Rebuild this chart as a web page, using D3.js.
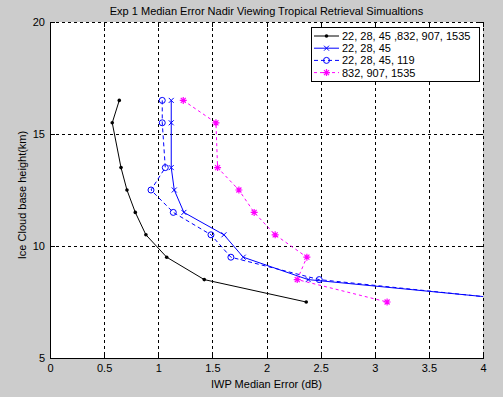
<!DOCTYPE html>
<html>
<head>
    <title>Exp 1 Median Error</title>
    <script src="https://d3js.org/d3.v7.min.js"></script>
    <style>
        body { margin: 0; background: #cccccc; }
        text { font-family: Arial, "Liberation Sans", sans-serif; font-size: 11px; fill: #000; }
        .grid line { stroke: #000; stroke-width: 1; stroke-dasharray: 3,3; shape-rendering: crispEdges; }
        .series { fill: none; stroke-width: 1; }
    </style>
</head>
<body>
<div id="chart"></div>
<script>
    // cloud base heights (km) shared by every series
    const heights = [16.5, 15.5, 13.5, 12.5, 11.5, 10.5, 9.5, 8.5, 7.5];

    // IWP median error (dB) per channel set
    const allChannels = [0.640, 0.575, 0.656, 0.711, 0.788, 0.886, 1.078, 1.425, 2.367];
    const ch22_28_45 = [1.120, 1.120, 1.120, 1.148, 1.237, 1.607, 1.785, 2.385, 4.52];
    const ch22_28_45_119 = [1.037, 1.037, 1.065, 0.933, 1.139, 1.487, 1.671, 2.487, 4.48];
    const ch832_907_1535 = [1.231, 1.533, 1.548, 1.745, 1.886, 2.080, 2.373, 2.284, 3.114];

    const seriesNames = ["22, 28, 45 ,832, 907, 1535", "22, 28, 45", "22, 28, 45, 119", "832, 907, 1535"];
    const xTicks = [0, 0.5, 1, 1.5, 2, 2.5, 3, 3.5, 4];
    const yTicks = [5, 10, 15, 20];

    const W = 503, H = 397;
    const m = { left: 50, right: 483, top: 22, bottom: 358 };

    const x = d3.scaleLinear().domain([0, 4]).range([m.left, m.right]);
    const y = d3.scaleLinear().domain([5, 20]).range([m.bottom, m.top]);

    const series = [
        { name: seriesNames[0], vals: allChannels, color: "#000000", dash: null, marker: "dot" },
        { name: seriesNames[1], vals: ch22_28_45, color: "#0000ff", dash: null, marker: "x" },
        { name: seriesNames[2], vals: ch22_28_45_119, color: "#0000ff", dash: "4,3", marker: "circle" },
        { name: seriesNames[3], vals: ch832_907_1535, color: "#ff00ff", dash: "3,3", marker: "star" }
    ];

    const svg = d3.select("#chart").append("svg")
        .attr("width", W)
        .attr("height", H);

    svg.append("rect").attr("width", W).attr("height", H).attr("fill", "#cccccc");

    svg.append("defs").append("clipPath").attr("id", "plot")
        .append("rect")
        .attr("x", m.left).attr("y", m.top)
        .attr("width", m.right - m.left).attr("height", m.bottom - m.top);

    svg.append("rect")
        .attr("x", m.left).attr("y", m.top)
        .attr("width", m.right - m.left).attr("height", m.bottom - m.top)
        .attr("fill", "#ffffff");

    // dashed grid
    const grid = svg.append("g").attr("class", "grid");
    grid.selectAll(".gx").data(xTicks.slice(1)).enter().append("line")
        .attr("x1", d => Math.round(x(d)) + 0.5).attr("x2", d => Math.round(x(d)) + 0.5)
        .attr("y1", m.top).attr("y2", m.bottom);
    grid.selectAll(".gy").data(yTicks.slice(1)).enter().append("line")
        .attr("y1", d => Math.round(y(d)) + 0.5).attr("y2", d => Math.round(y(d)) + 0.5)
        .attr("x1", m.left).attr("x2", m.right);

    // axes with inward ticks
    const xAxis = svg.append("g")
        .attr("transform", `translate(0,${m.bottom})`)
        .call(d3.axisBottom(x).tickValues(xTicks).tickFormat(d3.format("")).tickSizeInner(-5).tickSizeOuter(0).tickPadding(6));
    const yAxis = svg.append("g")
        .attr("transform", `translate(${m.left},0)`)
        .call(d3.axisLeft(y).tickValues(yTicks).tickSizeInner(-5).tickSizeOuter(0).tickPadding(5));
    svg.append("g")
        .attr("transform", `translate(0,${m.top})`)
        .call(d3.axisTop(x).tickValues(xTicks).tickFormat("").tickSizeInner(-5).tickSizeOuter(0))
        .select(".domain").remove();
    svg.append("g")
        .attr("transform", `translate(${m.right},0)`)
        .call(d3.axisRight(y).tickValues(yTicks).tickFormat("").tickSizeInner(-5).tickSizeOuter(0))
        .select(".domain").remove();

    svg.selectAll(".tick line").attr("stroke", "#000").attr("shape-rendering", "crispEdges");
    [xAxis, yAxis].forEach(a => {
        a.select(".domain").attr("stroke", "#000").attr("shape-rendering", "crispEdges");
        a.selectAll("text").style("font-size", "11px").style("font-family", "Arial, 'Liberation Sans', sans-serif");
    });

    // marker drawing
    function drawMarker(g, type, color) {
        if (type === "dot") {
            g.append("circle").attr("r", 1.8).attr("fill", color);
        } else if (type === "x") {
            g.append("path").attr("d", "M-2.5,-2.5L2.5,2.5M-2.5,2.5L2.5,-2.5").attr("stroke", color).attr("fill", "none");
        } else if (type === "circle") {
            g.append("circle").attr("r", 3).attr("fill", "none").attr("stroke", color);
        } else if (type === "star") {
            g.append("path").attr("d", "M-3.5,0L3.5,0M0,-3.5L0,3.5M-2.5,-2.5L2.5,2.5M-2.5,2.5L2.5,-2.5")
                .attr("stroke", color).attr("stroke-width", 1.2).attr("fill", "none");
        }
    }

    const plot = svg.append("g").attr("clip-path", "url(#plot)");
    series.forEach(s => {
        const pts = s.vals.map((v, i) => [v, heights[i]]);
        plot.append("path")
            .datum(pts)
            .attr("class", "series")
            .attr("stroke", s.color)
            .attr("stroke-dasharray", s.dash)
            .attr("d", d3.line().x(d => x(d[0])).y(d => y(d[1])));
        plot.selectAll(null).data(pts).enter().append("g")
            .attr("transform", d => `translate(${x(d[0])},${y(d[1])})`)
            .each(function() { drawMarker(d3.select(this), s.marker, s.color); });
    });

    // legend
    const lg = svg.append("g").attr("transform", "translate(311,27)");
    lg.append("rect").attr("x", 0.5).attr("y", 0.5).attr("width", 168).attr("height", 54)
        .attr("fill", "#ffffff").attr("stroke", "#000");
    series.forEach((s, i) => {
        const row = lg.append("g").attr("transform", `translate(0,${9 + i * 12.2})`);
        row.append("line").attr("x1", 3).attr("x2", 28).attr("y1", 0).attr("y2", 0)
            .attr("stroke", s.color).attr("stroke-dasharray", s.dash);
        drawMarker(row.append("g").attr("transform", "translate(15.5,0)"), s.marker, s.color);
        row.append("text").attr("x", 31).attr("y", 4).text(s.name);
    });

    // titles
    svg.append("text").attr("x", (m.left + m.right) / 2).attr("y", 15)
        .attr("text-anchor", "middle").text("Exp 1 Median Error Nadir Viewing Tropical Retrieval Simualtions");
    svg.append("text").attr("x", (m.left + m.right) / 2).attr("y", 388)
        .attr("text-anchor", "middle").text("IWP Median Error (dB)");
    svg.append("text").attr("transform", `translate(26,${(m.top + m.bottom) / 2 + 5}) rotate(-90)`)
        .attr("text-anchor", "middle").text("Ice Cloud base height(km)");
</script>
</body>
</html>
